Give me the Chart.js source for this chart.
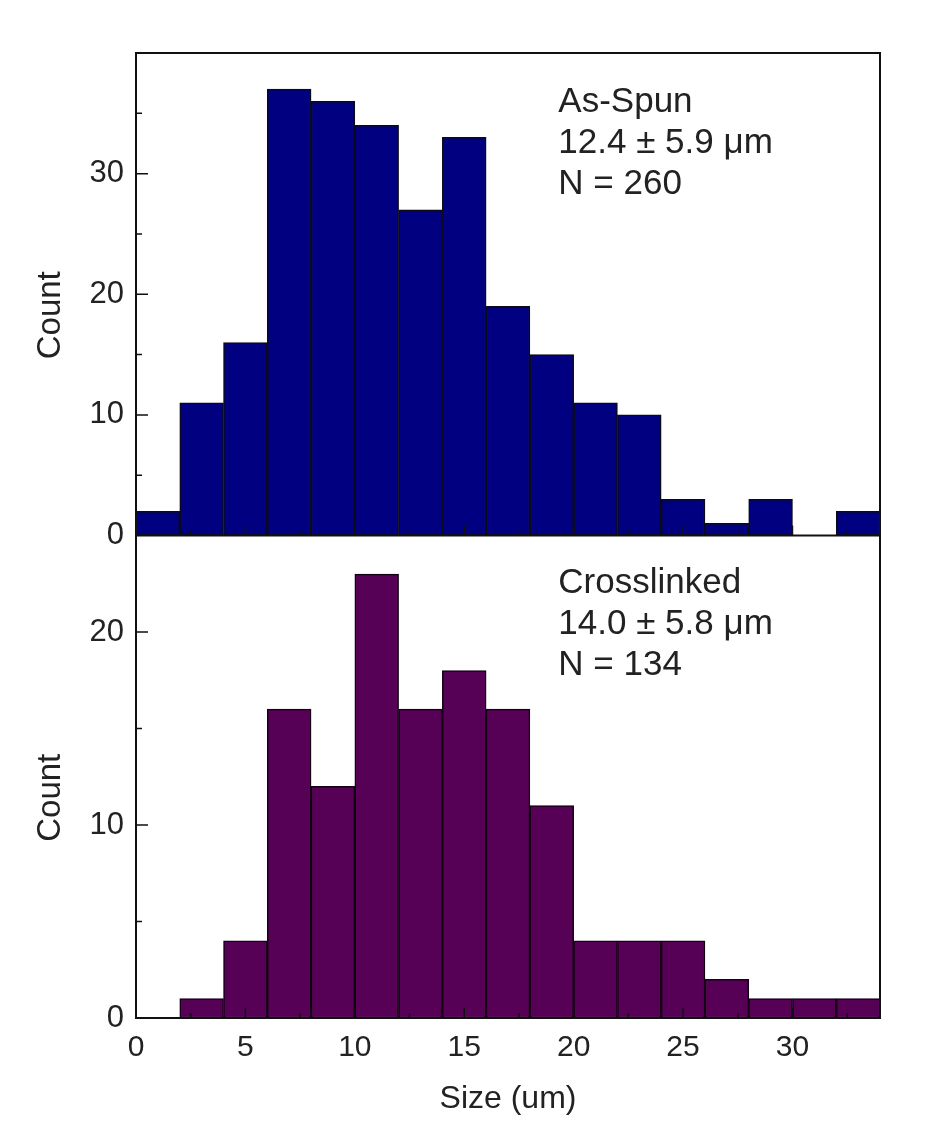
<!DOCTYPE html>
<html>
<head>
<meta charset="utf-8">
<script src="https://cdn.jsdelivr.net/npm/chart.js@4.4.1/dist/chart.umd.min.js"></script>
<style>
  html, body { margin: 0; padding: 0; background: #fff; }
  #wrap { width: 942px; height: 1132px; }
</style>
</head>
<body>
<div id="wrap"><canvas id="histo" width="942" height="1132"></canvas></div>
<script>
// bin starts (um), each bin is 2 um wide
const binStarts = [0, 2, 4, 6, 8, 10, 12, 14, 16, 18, 20, 22, 24, 26, 28, 30, 32];
const asSpunCounts = [2, 11, 16, 37, 36, 34, 27, 33, 19, 15, 11, 10, 3, 1, 3, 0, 2];
const crosslinkedCounts = [0, 1, 4, 16, 12, 23, 16, 18, 16, 11, 4, 4, 4, 2, 1, 1, 1];
const asSpunLabel = ['As-Spun', '12.4 \u00b1 5.9 \u03bcm', 'N = 260'];
const crosslinkedLabel = ['Crosslinked', '14.0 \u00b1 5.8 \u03bcm', 'N = 134'];

const binWidth = 2;
const FONT = "'Liberation Sans', Arial, sans-serif";
const TXT = '#222';

function toPoints(counts) {
    return binStarts.map((s, i) => ({ x: s + binWidth / 2, y: counts[i] }));
}

// frame, inner tick marks, "Count" titles and panel annotations
const framePlugin = {
    id: 'frame',
    afterDatasetsDraw(chart) {
        const ctx = chart.ctx;
        const area = chart.chartArea;
        const x = chart.scales.x;
        const yTop = chart.scales.yTop;
        const yBot = chart.scales.yBot;
        ctx.save();
        ctx.strokeStyle = '#111';
        ctx.lineWidth = 2;
        ctx.strokeRect(area.left, area.top, area.right - area.left, area.bottom - area.top);
        ctx.beginPath();
        ctx.moveTo(area.left, yTop.bottom);
        ctx.lineTo(area.right, yTop.bottom);
        ctx.stroke();

        ctx.lineWidth = 1.5;
        ctx.beginPath();
        [yTop, yBot].forEach(sc => {
            for (let v = 5; v < sc.max; v += 5) {
                const py = sc.getPixelForValue(v);
                const len = v % 10 === 0 ? 12 : 6;
                ctx.moveTo(area.left, py);
                ctx.lineTo(area.left + len, py);
            }
        });
        [yTop.bottom, yBot.bottom].forEach(base => {
            for (let v = 2.5; v < x.max; v += 2.5) {
                const px = x.getPixelForValue(v);
                const len = v % 5 === 0 ? 10 : 5;
                ctx.moveTo(px, base);
                ctx.lineTo(px, base - len);
            }
        });
        ctx.stroke();

        ctx.fillStyle = TXT;
        ctx.font = '35px ' + FONT;
        ctx.textAlign = 'left';
        ctx.textBaseline = 'alphabetic';
        const tx = x.getPixelForValue(19.3);
        asSpunLabel.forEach((t, i) => ctx.fillText(t, tx, yTop.top + 59 + i * 41));
        crosslinkedLabel.forEach((t, i) => ctx.fillText(t, tx, yBot.top + 57 + i * 41));

        // y titles sit a bit below the panel centres in the original
        ctx.font = '33px ' + FONT;
        ctx.textAlign = 'center';
        ctx.textBaseline = 'middle';
        [yTop, yBot].forEach(sc => {
            ctx.save();
            ctx.translate(51, (sc.top + sc.bottom) / 2 + 21);
            ctx.rotate(-Math.PI / 2);
            ctx.fillText('Count', 0, 0);
            ctx.restore();
        });
        ctx.restore();
    }
};

function yAxis(max, weight) {
    return {
        type: 'linear',
        position: 'left',
        stack: 'panels',
        stackWeight: weight,
        min: 0,
        max: max,
        offset: false,
        grid: { display: false, drawTicks: false },
        border: { display: false },
        ticks: {
            stepSize: 5,
            padding: 12,
            color: TXT,
            font: { family: FONT, size: 31 },
            callback: v => (v % 10 === 0 && v < max) ? String(v) : ''
        },
        title: { display: false },
        afterFit: sc => { sc.width = 136; }
    };
}

const ctx = document.getElementById('histo').getContext('2d');
new Chart(ctx, {
    type: 'bar',
    data: {
        datasets: [
            {
                label: 'As-Spun',
                data: toPoints(asSpunCounts),
                yAxisID: 'yTop',
                backgroundColor: '#000080',
                borderColor: '#0a0a1a',
                borderWidth: 1.5,
                borderSkipped: false,
                grouped: false,
                barPercentage: 1,
                categoryPercentage: 1
            },
            {
                label: 'Crosslinked',
                data: toPoints(crosslinkedCounts),
                yAxisID: 'yBot',
                backgroundColor: '#560056',
                borderColor: '#140014',
                borderWidth: 1.5,
                borderSkipped: false,
                grouped: false,
                barPercentage: 1,
                categoryPercentage: 1
            }
        ]
    },
    options: {
        responsive: false,
        animation: false,
        layout: { padding: { top: 53, right: 62, bottom: 0, left: 0 } },
        plugins: {
            legend: { display: false },
            tooltip: { enabled: false }
        },
        scales: {
            x: {
                type: 'linear',
                min: 0,
                max: 34,
                offset: false,
                grid: { display: false, drawTicks: false },
                border: { display: false },
                ticks: {
                    stepSize: 5,
                    padding: 12,
                    color: TXT,
                    font: { family: FONT, size: 30 },
                    maxRotation: 0,
                    callback: v => (v % 5 === 0 ? String(v) : '')
                },
                title: {
                    display: true,
                    text: 'Size (um)',
                    color: TXT,
                    font: { family: FONT, size: 32 },
                    padding: { top: 16, bottom: 14 }
                },
                afterFit: sc => { sc.height = 114; }
            },
            // stacked axes: the later one is placed on top
            yBot: yAxis(25, 1),
            yTop: yAxis(40, 1)
        }
    },
    plugins: [framePlugin]
});
</script>
</body>
</html>
